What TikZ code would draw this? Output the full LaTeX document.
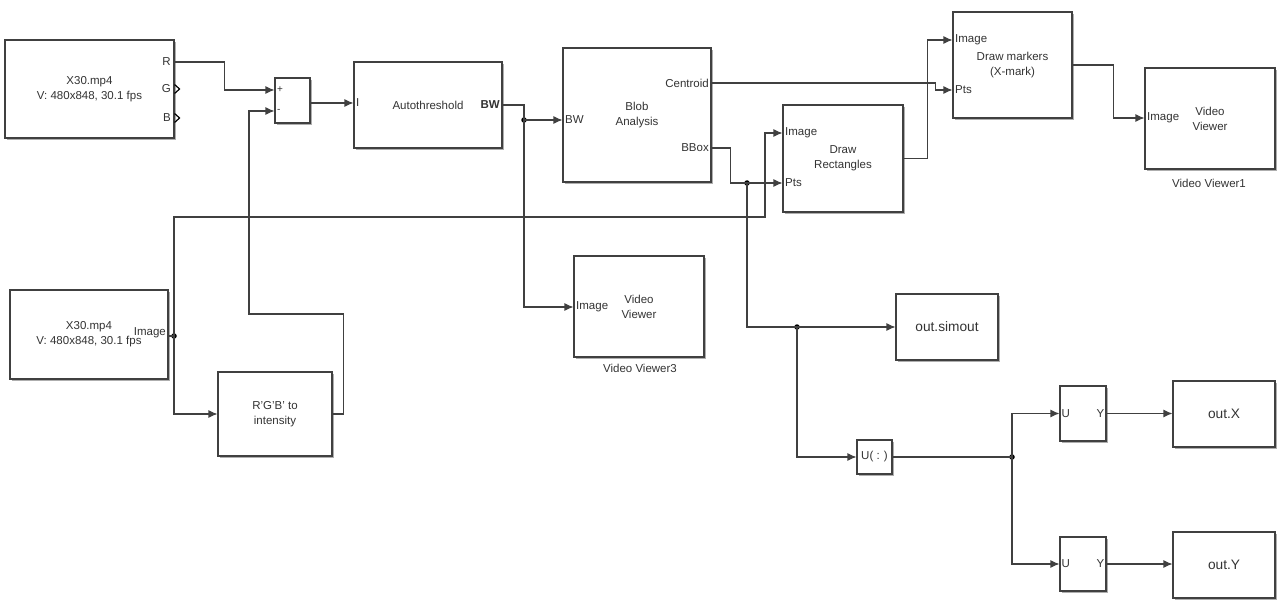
\documentclass[tikz,border=0pt]{standalone}
\usepackage{fontspec}
\setmainfont{Liberation Sans}
\usepackage{tikz}
\usetikzlibrary{
    positioning,
    arrows.meta,
    calc,
    shadows,
}
\newcommand{\blkfont}{\fontsize{11.5}{15}\selectfont}
\newcommand{\outfont}{\fontsize{13.7}{16}\selectfont}
\tikzset{
    % Block styles
    block/.style={rectangle, draw=black!75, line width=1.1pt, fill=white,
                  drop shadow={shadow xshift=2pt, shadow yshift=-2pt, fill=black!45, opacity=0.7},
                  align=center, inner sep=0pt, font=\blkfont, text=black!80},
    out block/.style={block, minimum width=102pt, minimum height=66pt, font=\outfont},
    port/.style={font=\blkfont, text=black!80, inner sep=2pt},
    caption/.style={font=\blkfont, text=black!80},
    % Signal styles
    signal/.style={draw=black!75, line width=1.1pt},
    arrow/.style={signal, -{Latex[length=9pt, width=8pt]}},
    junction/.style={circle, fill=black, inner sep=0pt, minimum size=5.5pt},
    chevron/.style={draw=black, line width=1.2pt},
}

\begin{document}
\begin{tikzpicture}[x=1pt, y=-1pt]
    \useasboundingbox (0,0) rectangle (1283,604);

    % Sources
    \node[block, minimum width=169pt, minimum height=98pt] (src1) at (89.5,89)
        {X30.mp4\\V: 480x848, 30.1 fps};
    \node[port, anchor=east] (src1-r) at (173,62) {R};
    \node[port, anchor=east] (src1-g) at (173,89) {G};
    \node[port, anchor=east] (src1-b) at (173,118) {B};
    \foreach \p in {src1-g, src1-b} {
        \draw[chevron] ($(src1.east |- \p)+(0,-4.5)$) -- ++(5,4.5) -- ++(-5,4.5);
    }

    \node[block, minimum width=158pt, minimum height=89pt] (src2) at (89,334.5)
        {X30.mp4\\V: 480x848, 30.1 fps};
    \node[port, anchor=east] (src2-img) at (168,333) {Image};

    % Colour conversion and difference
    \node[block, minimum width=114pt, minimum height=84pt] (gray) at (275,414)
        {R'G'B' to\\intensity};
    \node[block, minimum width=35pt, minimum height=45pt] (sum) at (292.5,100.5) {};
    \node[port, anchor=west, font=\fontsize{10}{10}\selectfont] (sum-plus) at (275,90) {+};
    \node[port, anchor=west, font=\fontsize{10}{10}\selectfont] (sum-minus) at (275,111) {-};

    % Threshold and blobs
    \node[block, minimum width=148pt, minimum height=86pt] (auto) at (428,105) {Autothreshold};
    \node[port, anchor=west] (auto-in) at (354,103) {I};
    \node[port, anchor=east, font=\blkfont\bfseries] (auto-bw) at (502,105) {BW};

    \node[block, minimum width=148pt, minimum height=134pt] (blob) at (637,115) {Blob\\Analysis};
    \node[port, anchor=west] (blob-bw) at (563,120) {BW};
    \node[port, anchor=east] (blob-cen) at (711,83) {Centroid};
    \node[port, anchor=east] (blob-bbox) at (711,148) {BBox};

    % Drawing
    \node[block, minimum width=120pt, minimum height=107pt] (rect) at (843,158.5) {Draw\\Rectangles};
    \node[port, anchor=west] (rect-img) at (783,133) {Image};
    \node[port, anchor=west] (rect-pts) at (783,183) {Pts};

    \node[block, minimum width=119pt, minimum height=106pt] (mark) at (1012.5,65) {Draw markers\\(X-mark)};
    \node[port, anchor=west] (mark-img) at (953,40) {Image};
    \node[port, anchor=west] (mark-pts) at (953,90) {Pts};

    % Viewers
    \node[block, minimum width=130pt, minimum height=101pt] (vv1) at (1210,118.5) {Video\\Viewer};
    \node[port, anchor=west] (vv1-img) at (1145,118) {Image};
    \node[caption] (vv1-cap) at (1209,183) {Video Viewer1};

    \node[block, minimum width=130pt, minimum height=101pt] (vv3) at (639,306.5) {Video\\Viewer};
    \node[port, anchor=west] (vv3-img) at (574,307) {Image};
    \node[caption] (vv3-cap) at (640,368) {Video Viewer3};

    % Workspace outputs
    \node[out block] (simout) at (947,327) {out.simout};
    \node[block, minimum width=35pt, minimum height=34pt] (reshape) at (874.5,457) {U( : )};
    \node[block, minimum width=46pt, minimum height=55pt] (selx) at (1083,413.5) {};
    \node[block, minimum width=46pt, minimum height=54pt] (sely) at (1083,564) {};
    \foreach \s in {selx, sely} {
        \node[port, anchor=west] (\s-u) at (\s.west) {U};
        \node[port, anchor=east] (\s-y) at (\s.east) {Y};
    }
    \node[out block] (outx) at (1224,414) {out.X};
    \node[out block] (outy) at (1224,565) {out.Y};

    % Junctions
    \node[junction] (j-bw) at (524,120) {};
    \node[junction] (j-bbox) at (747,183) {};
    \node[junction] (j-src2) at (174,336) {};
    \node[junction] (j-sim) at (797,327) {};
    \node[junction] (j-sel) at (1012,457) {};

    % Signals
    \draw[arrow] (src1.east |- src1-r) -- ++(50,0) |- (sum.west |- sum-plus);
    \draw[arrow] (gray.east) -- ++(11,0) |- (249,314) |- (sum.west |- sum-minus);
    \draw[arrow] (sum.east |- auto-in) -- (auto.west |- auto-in);

    \draw[signal] (auto.east |- auto-bw) -| (j-bw.center);
    \draw[arrow] (j-bw.center) -- (blob.west |- blob-bw);
    \draw[arrow] (j-bw.center) |- (vv3.west |- vv3-img);

    \draw[arrow] (blob.east |- blob-cen) -- ++(224,0) |- (mark.west |- mark-pts);
    \draw[signal] (blob.east |- blob-bbox) -- ++(19,0) |- (j-bbox.center);
    \draw[arrow] (j-bbox.center) -- (rect.west |- rect-pts);
    \draw[arrow] (j-bbox.center) |- (simout.west);

    \draw[signal] (src2.east |- j-src2) -- (j-src2.center);
    \draw[arrow] (j-src2.center) |- (765,217) |- (rect.west |- rect-img);
    \draw[arrow] (j-src2.center) |- (gray.west);

    \draw[arrow] (rect.east) -- ++(24,0) |- (mark.west |- mark-img);
    \draw[arrow] (mark.east) -- ++(41,0) |- (vv1.west |- vv1-img);

    \draw[arrow] (j-sim.center) |- (reshape.west);
    \draw[signal] (reshape.east) -- (j-sel.center);
    \draw[arrow] (j-sel.center) |- (selx.west);
    \draw[arrow] (j-sel.center) |- (sely.west);
    \draw[arrow] (selx.east) -- (outx.west |- selx.east);
    \draw[arrow] (sely.east) -- (outy.west |- sely.east);
\end{tikzpicture}
\end{document}
